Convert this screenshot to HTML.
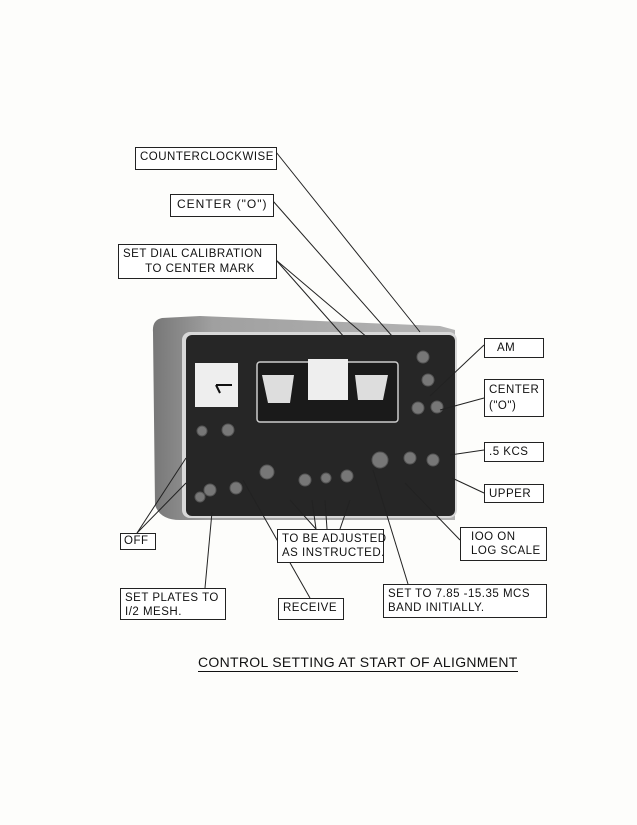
<!DOCTYPE html>
<html><head><style>
html,body{margin:0;padding:0;background:#fdfdfb;}
body{width:637px;height:825px;position:relative;overflow:hidden;font-family:"Liberation Sans",sans-serif;}
.b{position:absolute;border:1px solid #222;background:#fff;font-size:11.5px;line-height:14px;color:#111;letter-spacing:0.5px;padding:2px 4px;box-sizing:border-box;white-space:nowrap;}
</style></head><body>
<svg width="637" height="825" style="position:absolute;left:0;top:0">
<defs>
<linearGradient id="cab" x1="0" y1="0" x2="1" y2="0"><stop offset="0" stop-color="#777"/><stop offset="0.2" stop-color="#a0a0a0"/><stop offset="1" stop-color="#b4b4b4"/></linearGradient>
</defs>
<path d="M162 318 Q152 320 153 332 L155 505 Q160 520 180 520 L455 520 L455 330 L440 326 L200 316 Z" fill="url(#cab)"/>
<rect x="182" y="332" width="275" height="186" rx="8" fill="#d8d8d8"/>
<rect x="186" y="335" width="269" height="181" rx="6" fill="#262626"/>
<rect x="195" y="363" width="43" height="44" fill="#eee"/>
<line x1="216" y1="385" x2="232" y2="385" stroke="#111" stroke-width="2"/>
<line x1="216" y1="385" x2="220" y2="393" stroke="#111" stroke-width="2"/>
<rect x="257" y="362" width="141" height="60" rx="3" fill="#1a1a1a" stroke="#ccc" stroke-width="1.5"/>
<path d="M262 375 L294 375 L290 403 L268 403 Z" fill="#ddd"/>
<path d="M355 375 L388 375 L383 400 L358 400 Z" fill="#ddd"/>
<rect x="308" y="359" width="40" height="41" fill="#eee"/>
<g fill="#777" stroke="#555">
<circle cx="423" cy="357" r="6"/><circle cx="428" cy="380" r="6"/><circle cx="418" cy="408" r="6"/><circle cx="437" cy="407" r="6"/>
<circle cx="410" cy="458" r="6"/><circle cx="433" cy="460" r="6"/><circle cx="380" cy="460" r="8"/>
<circle cx="267" cy="472" r="7"/><circle cx="305" cy="480" r="6"/><circle cx="347" cy="476" r="6"/><circle cx="326" cy="478" r="5"/>
<circle cx="210" cy="490" r="6"/><circle cx="236" cy="488" r="6"/><circle cx="200" cy="497" r="5"/>
<circle cx="202" cy="431" r="5"/><circle cx="228" cy="430" r="6"/>
</g>
<g stroke="#222" stroke-width="1" fill="none">
<line x1="276" y1="152" x2="420" y2="332"/>
<line x1="273" y1="201" x2="392" y2="336"/>
<line x1="276" y1="260" x2="345" y2="338"/>
<line x1="276" y1="260" x2="368" y2="338"/>
<line x1="484" y1="345" x2="430" y2="396"/>
<line x1="484" y1="398" x2="440" y2="410"/>
<line x1="484" y1="450" x2="450" y2="455"/>
<line x1="484" y1="493" x2="452" y2="478"/>
<line x1="460" y1="540" x2="405" y2="483"/>
<line x1="408" y1="584" x2="373" y2="470"/>
<line x1="316" y1="529" x2="290" y2="500"/>
<line x1="316" y1="529" x2="312" y2="500"/>
<line x1="327" y1="529" x2="325" y2="500"/>
<line x1="340" y1="529" x2="350" y2="500"/>
<line x1="310" y1="598" x2="243" y2="480"/>
<line x1="205" y1="588" x2="212" y2="512"/>
<line x1="137" y1="533" x2="186" y2="458"/>
<line x1="137" y1="533" x2="186" y2="483"/>
</g>
</svg>
<div class="b" style="left:135px;top:147px;width:142px;height:23px;">COUNTERCLOCKWISE</div>
<div class="b" style="left:170px;top:194px;width:104px;height:23px;font-size:12px;letter-spacing:1px;padding-left:6px;">CENTER ("O")</div>
<div class="b" style="left:118px;top:244px;width:159px;height:35px;line-height:15px;">SET DIAL CALIBRATION<br>&nbsp;&nbsp;&nbsp;&nbsp;&nbsp;&nbsp;TO CENTER MARK</div>
<div class="b" style="left:484px;top:338px;width:60px;height:20px;padding-left:12px;">AM</div>
<div class="b" style="left:484px;top:379px;width:60px;height:38px;line-height:16px;">CENTER<br>("O")</div>
<div class="b" style="left:484px;top:442px;width:60px;height:20px;">.5 KCS</div>
<div class="b" style="left:484px;top:484px;width:60px;height:19px;">UPPER</div>
<div class="b" style="left:460px;top:527px;width:87px;height:34px;line-height:14px;padding-left:10px;">IOO ON<br>LOG SCALE</div>
<div class="b" style="left:383px;top:584px;width:164px;height:34px;">SET TO 7.85 -15.35 MCS<br>BAND INITIALLY.</div>
<div class="b" style="left:277px;top:529px;width:107px;height:34px;">TO BE ADJUSTED<br>AS INSTRUCTED.</div>
<div class="b" style="left:278px;top:598px;width:66px;height:22px;">RECEIVE</div>
<div class="b" style="left:120px;top:588px;width:106px;height:32px;">SET PLATES TO<br>I/2 MESH.</div>
<div class="b" style="left:120px;top:533px;width:36px;height:17px;padding:0 3px;line-height:15px;">OFF</div>
<div style="position:absolute;left:198px;top:654px;font-size:14px;letter-spacing:0.3px;color:#111;border-bottom:1px solid #111;padding-bottom:1px;white-space:nowrap;">CONTROL SETTING AT START OF ALIGNMENT</div>
</body></html>
